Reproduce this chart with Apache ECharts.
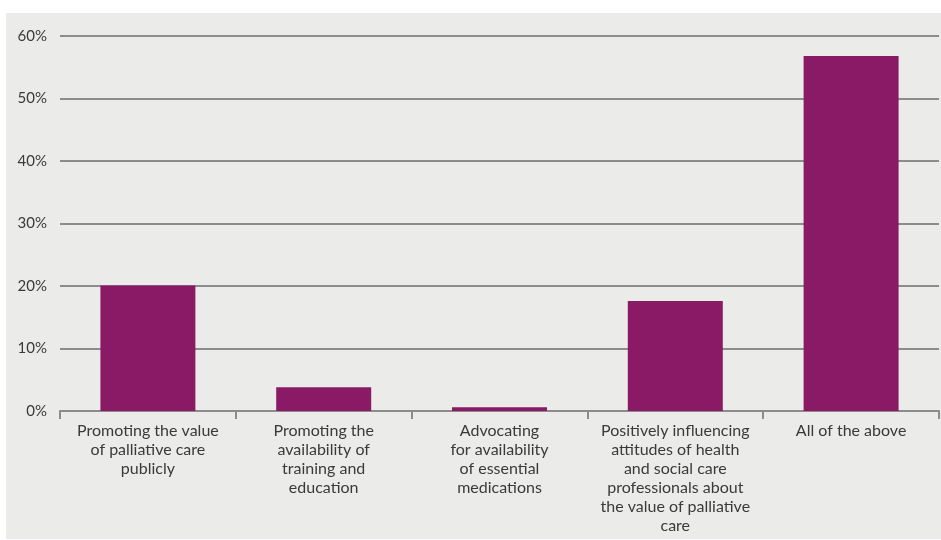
<!DOCTYPE html>
<html>
<head>
<meta charset="utf-8">
<script src="https://cdn.jsdelivr.net/npm/echarts@6/dist/echarts.min.js"></script>
<style>
  html, body { margin: 0; padding: 0; background: #ffffff; }
  #wrap { position: relative; width: 941px; height: 540px; }
  #panel { position: absolute; left: 6px; top: 13px; width: 935px; height: 526px; background: #ebebe9; }
  #chart { position: absolute; left: 0; top: 0; width: 941px; height: 540px; }
</style>
</head>
<body>
<div id="wrap">
  <div id="panel"></div>
  <div id="chart"></div>
</div>
<script>
// Survey categories (line breaks as set in the axis labels)
const categories = [
  'Promoting the value\nof palliative care\npublicly',
  'Promoting the\navailability of\ntraining and\neducation',
  'Advocating\nfor availability\nof essential\nmedications',
  'Positively influencing\nattitudes of health\nand social care\nprofessionals about\nthe value of palliative\ncare',
  'All of the above'
];
// Share of respondents, percent
const shares = [20.1, 3.8, 0.6, 17.6, 56.8];
// Value axis ticks
const yTicks = [0, 10, 20, 30, 40, 50, 60];

const chart = echarts.init(document.getElementById('chart'), null, { renderer: 'canvas' });
chart.setOption({
  backgroundColor: 'transparent',
  animation: false,
  grid: { left: 60, right: 2, top: 36, bottom: 129, containLabel: false },
  xAxis: {
    type: 'category',
    data: categories,
    boundaryGap: true,
    axisLine: { show: true, lineStyle: { color: '#8c8c8c', width: 2 } },
    axisTick: { show: true, length: 8, lineStyle: { color: '#8c8c8c', width: 2 } },
    axisLabel: {
      interval: 0,
      margin: 10,
      color: '#3a3a3a',
      fontFamily: 'Lato',
      fontSize: 16,
      lineHeight: 19,
      align: 'center'
    }
  },
  yAxis: {
    type: 'value',
    min: yTicks[0],
    max: yTicks[yTicks.length - 1],
    interval: 10,
    axisLine: { show: false },
    axisTick: { show: false },
    axisLabel: {
      margin: 13,
      color: '#3a3a3a',
      fontFamily: 'Lato',
      fontSize: 15,
      formatter: v => v + '%'
    },
    splitLine: { show: true, lineStyle: { color: '#8c8c8c', width: 2 } }
  },
  series: [{
    type: 'bar',
    data: shares,
    barWidth: 95,
    itemStyle: { color: '#8b1a66' },
    z: 3
  }]
});
</script>
</body>
</html>
